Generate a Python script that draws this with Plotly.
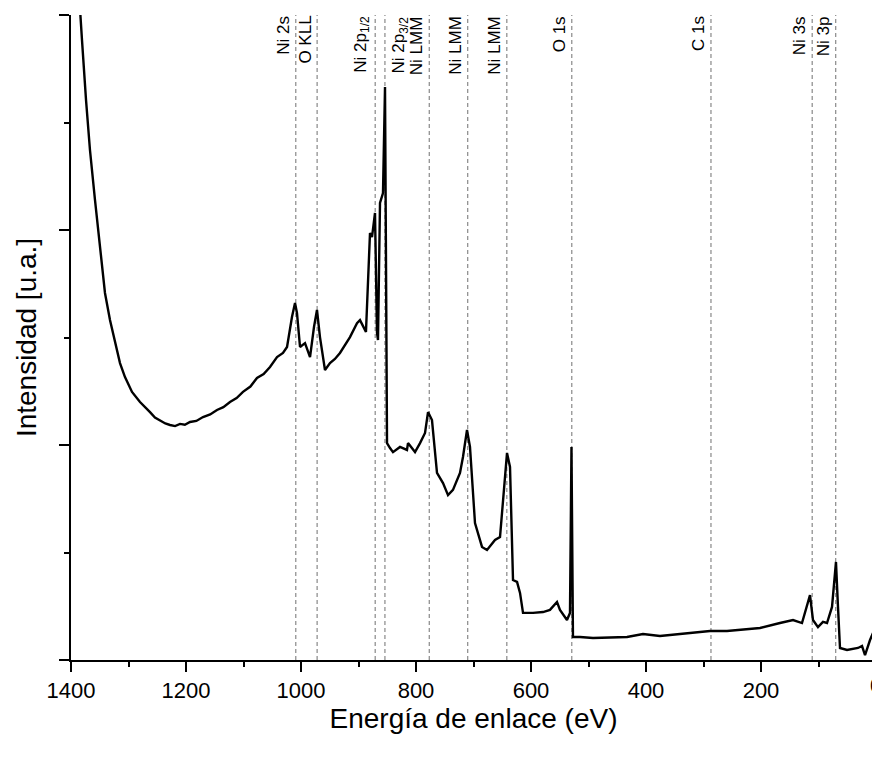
import plotly.graph_objects as go

# XPS survey spectrum (binding energy in eV, intensity in arbitrary units)
energy = [1392, 1384.3, 1380.9, 1373.9, 1367.0, 1358.3, 1349.6, 1340.9, 1332.2, 1323.5, 1314.8,
          1306.1, 1293.9, 1280.0, 1270.0, 1262.6, 1254.0, 1245.2, 1236.0, 1227.8, 1219.0, 1210.4,
          1202.0, 1193.0, 1182.0, 1170.4, 1158.0, 1146.1, 1135.0, 1123.5, 1112.0, 1100.9,
          1088.0, 1076.5, 1065.0, 1053.9, 1041.7, 1031.3, 1024.3, 1015.7, 1010.4, 1007.0,
          1001.7, 993.0, 984.3, 977.4, 972.2, 967.0, 958.3, 949.6, 941.0, 932.2, 923.0, 914.8, 902.6,
          897.4, 887.0, 880.0, 876.5, 871.3, 867.8, 866.1, 862.6, 857.4, 853.9, 850.4,
          845.2, 840.0, 827.8, 815.7, 813.9, 801.7, 793.0, 784.3, 779.1, 772.2, 763.5,
          753.0, 744.3, 735.7, 723.5, 718.3, 711.3, 706.1, 697.4, 685.2, 676.5, 662.6,
          653.9, 641.7, 636.5, 631.3, 624.3, 619.1, 613.9, 596.5, 579.1, 567.0, 554.8,
          549.6, 537.4, 532.2, 529.6, 527.0, 514.8, 492.2, 433.0, 405.2, 375.7, 318.3,
          288.7, 259.1, 236.5, 201.7, 167.0, 144.3, 128.7, 120.0, 114.8, 109.6, 100.9,
          92.2, 85.2, 76.5, 69.6, 66.1, 62.6, 50.4, 31.3, 24.3, 19.1, 10.4, 5.2, 1.7]
intensity = [3.35, 3.00, 2.884, 2.605, 2.372, 2.140, 1.907, 1.707, 1.581, 1.474, 1.381,
             1.316, 1.247, 1.200, 1.170, 1.153, 1.128, 1.116, 1.100, 1.093, 1.088, 1.098,
             1.094, 1.107, 1.112, 1.130, 1.142, 1.163, 1.176, 1.200, 1.218, 1.247,
             1.272, 1.312, 1.330, 1.363, 1.409, 1.428, 1.456, 1.595, 1.660, 1.614,
             1.456, 1.474, 1.409, 1.549, 1.628, 1.502, 1.349, 1.381, 1.400, 1.428, 1.470, 1.502, 1.567,
             1.581, 1.526, 1.986, 1.967, 2.079, 1.521, 1.488, 2.126, 2.172, 2.665, 1.009,
             0.986, 0.967, 0.991, 0.977, 1.009, 0.967, 1.009, 1.056, 1.153, 1.116, 0.870,
             0.823, 0.767, 0.791, 0.870, 0.944, 1.070, 0.991, 0.637, 0.526, 0.512, 0.558,
             0.572, 0.963, 0.898, 0.372, 0.363, 0.312, 0.219, 0.219, 0.223, 0.233, 0.270,
             0.233, 0.186, 0.219, 0.991, 0.107, 0.107, 0.102, 0.107, 0.121, 0.112, 0.126,
             0.135, 0.135, 0.140, 0.149, 0.172, 0.186, 0.172, 0.247, 0.302, 0.186, 0.153,
             0.177, 0.172, 0.247, 0.456, 0.247, 0.056, 0.047, 0.056, 0.065, 0.023, 0.093,
             0.126, 0.047]

# Peak assignments
peak_labels = ["Ni 2s", "O KLL", "Ni 2p<sub>1/2</sub>", "Ni 2p<sub>3/2</sub>", "Ni LMM",
               "Ni LMM", "Ni LMM", "O 1s", "C 1s", "Ni 3s", "Ni 3p"]
peak_positions = [1009, 972, 871, 854, 777, 710, 642, 529, 287, 111, 70]
label_side = ["left", "left", "left", "right", "left", "left", "left", "left", "left", "left", "left"]

FONT = "Arial, Liberation Sans, sans-serif"

fig = go.Figure()
fig.add_trace(go.Scatter(x=energy, y=intensity, mode="lines",
                         line=dict(color="black", width=2.4), showlegend=False))

for lab, pos, side in zip(peak_labels, peak_positions, label_side):
    fig.add_shape(type="line", x0=pos, x1=pos, xref="x", y0=0, y1=1, yref="paper",
                  line=dict(color="#707070", width=1, dash="4px,3px"), layer="below")
    fig.add_annotation(x=pos, y=1, xref="x", yref="paper", text=lab, textangle=-90,
                       showarrow=False, xanchor="right" if side == "left" else "left",
                       yanchor="top", xshift=-1 if side == "left" else 2, yshift=1,
                       font=dict(family=FONT, size=17, color="black"))

# the last x tick label ("0") sits at the very edge of the figure
fig.add_annotation(x=0, y=0, xref="x", yref="paper", text="0", showarrow=False,
                   xanchor="center", yanchor="top", yshift=-11,
                   font=dict(family=FONT, size=22, color="black"))

fig.update_layout(
    width=872, height=753,
    margin=dict(l=63, r=4, t=7, b=101),
    paper_bgcolor="white", plot_bgcolor="white",
    font=dict(family=FONT, color="black"),
    xaxis=dict(range=[1400, 0], showgrid=False, zeroline=False, showline=True, automargin=False,
               linecolor="black", linewidth=2, ticks="outside", ticklen=10, tickwidth=2,
               tickcolor="black", dtick=200, tick0=0,
               minor=dict(dtick=100, ticklen=5, tickwidth=2, ticks="outside", tickcolor="black"),
               tickfont=dict(size=22, family=FONT),
               title=dict(text="Energía de enlace (eV)", font=dict(size=28, family=FONT), standoff=0)),
    yaxis=dict(range=[0, 3], showgrid=False, zeroline=False, showline=True, automargin=False,
               linecolor="black", linewidth=2, ticks="outside", ticklen=10, tickwidth=2,
               tickcolor="black", dtick=1, tick0=0, showticklabels=False,
               minor=dict(dtick=0.5, ticklen=5, tickwidth=2, ticks="outside", tickcolor="black"),
               title=dict(text="Intensidad [u.a.]", font=dict(size=28, family=FONT), standoff=14)),
)

fig.write_html("out.html")
